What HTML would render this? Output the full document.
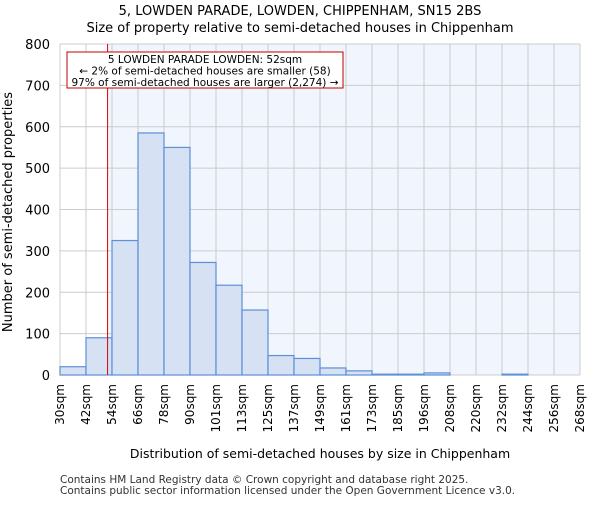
<!DOCTYPE html>
<html><head><meta charset="utf-8"><style>
body{margin:0;background:#fff;}
svg{font-family:"DejaVu Sans","Liberation Sans",sans-serif;}
</style></head><body>
<svg width="600" height="500" viewBox="0 0 600 500">
<text x="300" y="15" text-anchor="middle" font-size="13">5, LOWDEN PARADE, LOWDEN, CHIPPENHAM, SN15 2BS</text>
<text x="300" y="32" text-anchor="middle" font-size="13">Size of property relative to semi-detached houses in Chippenham</text>
<rect x="60" y="44" width="520" height="331" fill="#fff"/>
<rect id="hl" x="108" y="44" width="472" height="331" fill="#f1f5fd"/>
<g id="grid"></g><g id="bars"></g><g id="yt"></g><g id="xt"></g>
<line id="marker" y1="44" y2="375" stroke="#e00000" stroke-width="1"/>
<rect x="67" y="52" width="276" height="36" fill="#fff" stroke="#c00000" stroke-width="1"/>
<text x="205" y="63" text-anchor="middle" font-size="10.5">5 LOWDEN PARADE LOWDEN: 52sqm</text>
<text x="205" y="74.5" text-anchor="middle" font-size="10.5">← 2% of semi-detached houses are smaller (58)</text>
<text x="205" y="86" text-anchor="middle" font-size="10.5">97% of semi-detached houses are larger (2,274) →</text>
<text transform="translate(12,212) rotate(-90)" text-anchor="middle" font-size="13">Number of semi-detached properties</text>
<text x="320" y="458" text-anchor="middle" font-size="12.5">Distribution of semi-detached houses by size in Chippenham</text>
<text x="60" y="483" font-size="10.5" fill="#333">Contains HM Land Registry data © Crown copyright and database right 2025.</text>
<text x="60" y="494" font-size="10.5" fill="#333">Contains public sector information licensed under the Open Government Licence v3.0.</text>
</svg>
<script>
const binLabels=["30sqm","42sqm","54sqm","66sqm","78sqm","90sqm","101sqm","113sqm","125sqm","137sqm","149sqm","161sqm","173sqm","185sqm","196sqm","208sqm","220sqm","232sqm","244sqm","256sqm","268sqm"];
const counts=[20,90,325,585,550,272,217,157,47,40,17,10,2,2,5,0,0,2,0,0];
const yTicks=[0,100,200,300,400,500,600,700,800];
const markerBin=1.83;
const NS="http://www.w3.org/2000/svg";
const X0=60,X1=580,Y0=375,Y1=44,YMAX=800;
const bw=(X1-X0)/counts.length;
const xs=i=>X0+i*bw;
const ys=v=>Y0-(v/YMAX)*(Y0-Y1);
function mk(tag,attrs,parent){const e=document.createElementNS(NS,tag);for(const k in attrs)e.setAttribute(k,attrs[k]);document.getElementById(parent).appendChild(e);return e;}
yTicks.forEach(t=>{
 const l=mk('line',{x1:X0,x2:X1,y1:ys(t),y2:ys(t),stroke:'#cccccc','stroke-width':1},'grid');
 
 
 const tx=mk('text',{x:X0-10,y:ys(t)+5,'text-anchor':'end','font-size':13},'yt');
 tx.textContent=t;
 
 
});
binLabels.forEach((s,i)=>{
 const l=mk('line',{x1:xs(i),x2:xs(i),y1:Y1,y2:Y0,stroke:'#cccccc','stroke-width':1},'grid');
 
 
 const x=xs(i)+4;
 const tx=mk('text',{x:x,y:384,'text-anchor':'end','font-size':12,transform:`rotate(-90 ${x} 384)`},'xt');
 tx.textContent=s;
 
 
});
counts.forEach((c,i)=>{
 const r=mk('rect',{x:xs(i),y:ys(c),width:bw,height:Y0-ys(c),fill:'#d6e1f3',stroke:'#5b8fd6','stroke-width':1.2},'bars');
 
 
});
const mx=xs(markerBin);
const m=document.getElementById('marker');m.setAttribute('x1',mx);m.setAttribute('x2',mx);
const hl=document.getElementById('hl');hl.setAttribute('x',mx);hl.setAttribute('width',X1-mx);
</script>
</body></html>
